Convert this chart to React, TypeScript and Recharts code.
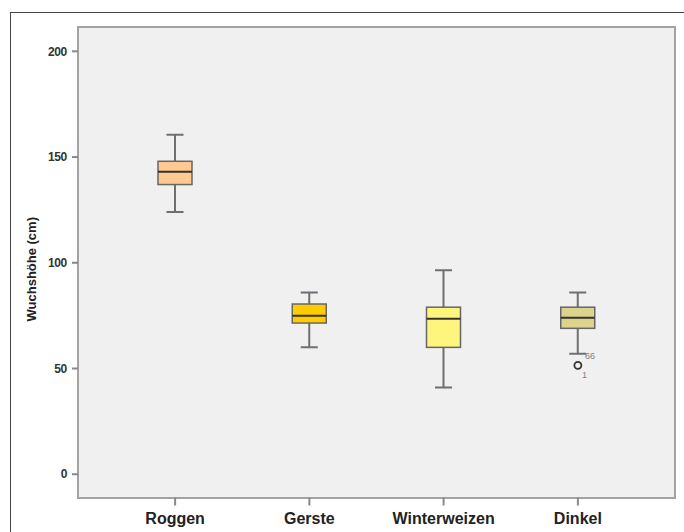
import React from 'react';
import { ComposedChart, Bar, Scatter, XAxis, YAxis, Label } from 'recharts';

const categories = ['Roggen', 'Gerste', 'Winterweizen', 'Dinkel'];
const whiskerLow = [124, 60, 41, 57];
const q1 = [137, 71.5, 60, 69];
const median = [143, 75, 73.5, 74];
const q3 = [148, 80.5, 79, 79];
const whiskerHigh = [160.5, 86, 96.5, 86];
const outliers = [null, null, null, 51.5];
const outlierIds = [[], [], [], ['66', '1']];
const boxFills = ['#ffc98f', '#ffcc00', '#fdf57c', '#dcd38c'];
const yTicks = [0, 50, 100, 150, 200];

const data = categories.map((name, i) => ({
  name,
  range: [whiskerLow[i], whiskerHigh[i]],
  q1: q1[i],
  median: median[i],
  q3: q3[i],
  outlier: outliers[i],
  ids: outlierIds[i],
  fill: boxFills[i],
}));

const W = 684;
const H = 532;
const PLOT = { left: 78, top: 27, right: 675, bottom: 497.5 };

const sans = "'Liberation Sans', Arial, sans-serif";

// draws whiskers, box and median from the floating range bar (min..max)
const BoxShape = (props: any) => {
  const { x, y, width, height, payload } = props;
  const top = Math.min(y, y + height);
  const bottom = Math.max(y, y + height);
  const [lo, hi] = payload.range;
  const toY = (v: number) => top + ((hi - v) / (hi - lo)) * (bottom - top);
  const cx = x + width / 2;
  const cap = 8.5;
  return (
    <g>
      <line x1={cx} x2={cx} y1={top} y2={bottom} stroke="#6f6f6f" strokeWidth={2} />
      <line x1={cx - cap} x2={cx + cap} y1={top} y2={top} stroke="#6f6f6f" strokeWidth={2} />
      <line x1={cx - cap} x2={cx + cap} y1={bottom} y2={bottom} stroke="#6f6f6f" strokeWidth={2} />
      <rect
        x={x}
        y={toY(payload.q3)}
        width={width}
        height={toY(payload.q1) - toY(payload.q3)}
        fill={payload.fill}
        stroke="#666"
        strokeWidth={1.5}
      />
      <line x1={x} x2={x + width} y1={toY(payload.median)} y2={toY(payload.median)} stroke="#333" strokeWidth={2} />
    </g>
  );
};

const OutlierShape = (props: any) => {
  const { cx, cy, payload } = props;
  if (cx == null || cy == null || payload.outlier == null) return null;
  const ids: string[] = payload.ids || [];
  return (
    <g>
      <circle cx={cx} cy={cy} r={3.5} fill="none" stroke="#333" strokeWidth={1.8} />
      {ids[0] && (
        <text x={cx + 7} y={cy - 6} fontSize={9} fill="#808080" fontFamily={sans}>{ids[0]}</text>
      )}
      {ids[1] && (
        <text x={cx + 4} y={cy + 13} fontSize={9} fill="#808080" fontFamily={sans}>{ids[1]}</text>
      )}
    </g>
  );
};

export default function App() {
  return (
    <div style={{ position: 'absolute', left: 0, top: 0, width: W, height: H, overflow: 'hidden', background: '#fff' }}>
      {/* outer frame */}
      <div
        style={{
          position: 'absolute', left: 10, top: 12, width: W, height: H,
          border: '1.5px solid #444', boxSizing: 'border-box',
        }}
      />
      {/* plot background */}
      <div
        style={{
          position: 'absolute',
          left: PLOT.left - 1,
          top: PLOT.top - 1,
          width: PLOT.right - PLOT.left + 2,
          height: PLOT.bottom - PLOT.top + 2,
          background: '#f0f0f0',
          border: '2px solid #a3a3a3',
          boxSizing: 'border-box',
        }}
      />
      <div style={{ position: 'absolute', left: 0, top: 0 }}>
        <ComposedChart
          width={W}
          height={H}
          data={data}
          margin={{ top: PLOT.top, right: W - PLOT.right, left: 0, bottom: 0 }}
        >
          <XAxis
            dataKey="name"
            height={H - PLOT.bottom}
            padding={{ left: 30, right: 30 }}
            axisLine={false}
            tickSize={8}
            tickMargin={7}
            tickLine={{ stroke: '#888', strokeWidth: 2 }}
            tick={{ fill: '#222', fontSize: 16, fontWeight: 700, fontFamily: sans }}
          />
          <YAxis
            type="number"
            domain={[-11, 211.5]}
            ticks={yTicks}
            width={PLOT.left}
            axisLine={false}
            tickSize={6}
            tickMargin={5}
            tickLine={{ stroke: '#888', strokeWidth: 2 }}
            tick={{ fill: '#333', fontSize: 12, fontWeight: 700, fontFamily: sans, letterSpacing: -0.3 }}
            allowDataOverflow
          >
            <Label
              value="Wuchshöhe (cm)"
              angle={-90}
              position="center"
              dx={-8}
              dy={7}
              style={{ textAnchor: 'middle', fontSize: 13, fontWeight: 700, fill: '#222', fontFamily: sans }}
            />
          </YAxis>
          <Bar dataKey="range" barSize={34} shape={<BoxShape />} isAnimationActive={false} />
          <Scatter dataKey="outlier" shape={<OutlierShape />} isAnimationActive={false} />
        </ComposedChart>
      </div>
    </div>
  );
}
